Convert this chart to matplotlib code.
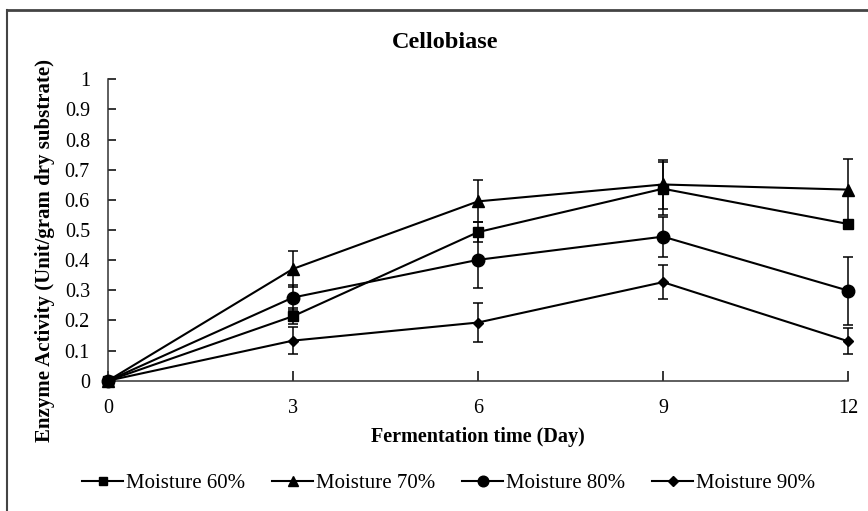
import matplotlib.pyplot as plt
from matplotlib.lines import Line2D

plt.rcParams['font.family'] = ['Liberation Serif', 'DejaVu Serif']

# 数据
days = [0, 3, 6, 9, 12]
labels = ['Moisture 60%', 'Moisture 70%', 'Moisture 80%', 'Moisture 90%']
markers = ['s', '^', 'o', 'D']
msizes = [7.5, 8, 9, 5.5]

m60 = [0, 0.214, 0.493, 0.637, 0.520]
m70 = [0, 0.371, 0.595, 0.651, 0.634]
m80 = [0, 0.276, 0.401, 0.478, 0.299]
m90 = [0, 0.133, 0.193, 0.327, 0.131]

e60 = [0, 0.027, 0.033, 0.088, 0.01]
e70 = [0, 0.060, 0.070, 0.082, 0.100]
e80 = [0, 0.040, 0.095, 0.066, 0.113]
e90 = [0, 0.045, 0.065, 0.056, 0.044]

values = [m60, m70, m80, m90]
errors = [e60, e70, e80, e90]

fig = plt.figure(figsize=(8.68, 5.11), dpi=100)
ax = fig.add_axes([108 / 868, 1 - 380.7 / 511, 740 / 868, 301.4 / 511])

for v, e, mk, ms in zip(values, errors, markers, msizes):
    ax.errorbar(days, v, yerr=e, color='black', marker=mk, markersize=ms,
                linewidth=1.5, elinewidth=1.1, capsize=3.5, capthick=1.1,
                clip_on=False, zorder=3)

ax.set_xlim(0, 12)
ax.set_ylim(0, 1)
ax.set_xticks(days)
ax.set_yticks([i / 10 for i in range(11)])
ax.set_yticklabels(['0', '0.1', '0.2', '0.3', '0.4', '0.5', '0.6', '0.7', '0.8', '0.9', '1'])
ax.tick_params(axis='both', direction='in', labelsize=14.5, width=1.1, pad=13)
ax.tick_params(axis='y', length=6)
ax.tick_params(axis='x', length=7)
for s in ['top', 'right']:
    ax.spines[s].set_visible(False)
for s in ['left', 'bottom']:
    ax.spines[s].set_linewidth(1.1)
    ax.spines[s].set_color('#333333')

fig.text(0.513, 1 - 42 / 511, 'Cellobiase', ha='center', va='center',
         fontsize=17.5, fontweight='bold')
fig.text(0.551, 1 - 437 / 511, 'Fermentation time (Day)', ha='center', va='center',
         fontsize=14.5, fontweight='bold')
fig.text(45 / 868, 1 - 250 / 511, 'Enzyme Activity (Unit/gram dry substrate)',
         ha='center', va='center', rotation=90, fontsize=15, fontweight='bold')

# 图例
handles = [Line2D([], [], color='black', marker=mk, markersize=ms * 0.85, linewidth=1.5)
           for mk, ms in zip(markers, msizes)]
fig.legend(handles, labels, loc='center', bbox_to_anchor=(0.517, 1 - 483 / 511),
           ncol=4, frameon=False, fontsize=15, handlelength=1.95,
           handletextpad=0.15, columnspacing=1.3)

# 外框
fig.add_artist(Line2D([7 / 868, 1], [1 - 10 / 511, 1 - 10 / 511],
                      transform=fig.transFigure, color='#444444', linewidth=2))
fig.add_artist(Line2D([7 / 868, 7 / 868], [0, 1 - 10 / 511],
                      transform=fig.transFigure, color='#444444', linewidth=1.5))

plt.savefig('out.png', dpi=100)
